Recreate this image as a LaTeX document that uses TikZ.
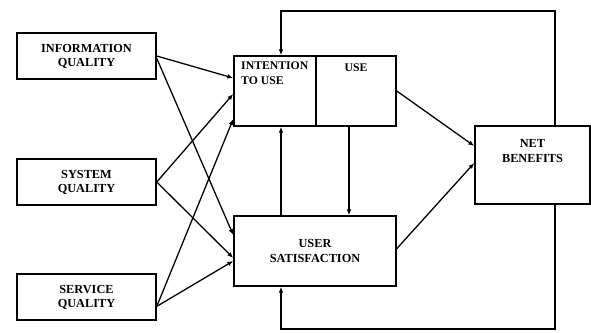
\documentclass[tikz,border=0pt]{standalone}
\usepackage{fontspec}
\setmainfont{Liberation Serif}
\usetikzlibrary{arrows.meta}

\begin{document}
\begin{tikzpicture}[x=0.03cm, y=-0.03cm, >={Latex[length=5pt,width=4pt]},
  box/.style={draw, line width=1.3pt, inner sep=0pt, align=center, font=\bfseries\fontsize{10.5}{12}\selectfont},
  tag/.style={inner sep=0pt, align=left, font=\bfseries\fontsize{10}{12}\selectfont},
  link/.style={->, line width=1.1pt}]
\useasboundingbox (0,0) rectangle (591,332);
% quality boxes on the left
\node[box, minimum width=4.17cm, minimum height=1.38cm] (iq) at (86.5,56) {INFORMATION\\QUALITY};
\node[box, minimum width=4.17cm, minimum height=1.38cm] (sq) at (86.5,182) {SYSTEM\\QUALITY};
\node[box, minimum width=4.17cm, minimum height=1.38cm] (svq) at (86.5,297) {SERVICE\\QUALITY};
% middle column
\node[box, minimum width=2.46cm, minimum height=2.1cm] (itu) at (275,91) {};
\node[tag, anchor=north west] (itutext) at (241,62) {INTENTION\\TO USE};
\node[box, minimum width=2.4cm, minimum height=2.1cm] (use) at (356,91) {};
\node[tag, anchor=north] (usetext) at (356,64) {USE};
\node[box, minimum width=4.86cm, minimum height=2.1cm] (us) at (315,251) {USER\\SATISFACTION};
% right
\node[box, minimum width=3.45cm, minimum height=2.34cm] (nb) at (532.5,165) {NET\\BENEFITS\\[12pt]};
% loops
\coordinate (tr) at (555,11);
\coordinate (tl) at (281,11);
\coordinate (br) at (555,329);
\coordinate (bl) at (281,329);
\draw[link] (nb.north -| tr) -- (tr) -- (tl) -- (itu.north -| tl);
\draw[link] (nb.south -| br) -- (br) -- (bl) -- (us.south -| bl);
\draw[link] (us.north -| tl) -- (itu.south -| tl);
\draw[link] (use.south -| 349,0) -- (us.north -| 349,0);
% quality links
\draw[link] (iq.east) -- (itu.west |- 0,78);
\draw[link] ([yshift=-2pt]iq.east) -- (us.west |- 0,235);
\draw[link] (sq.east) -- (itu.west |- 0,94);
\draw[link] (sq.east) -- (us.west |- 0,258);
\draw[link] ([yshift=-8pt]svq.east) -- (itu.west |- 0,119);
\draw[link] ([yshift=-8pt]svq.east) -- (us.west |- 0,261);
% to net benefits
\draw[link] (use.east) -- (nb.west |- 0,146);
\draw[link] ([yshift=2pt]us.east) -- (nb.west |- 0,163);
\end{tikzpicture}
\end{document}
